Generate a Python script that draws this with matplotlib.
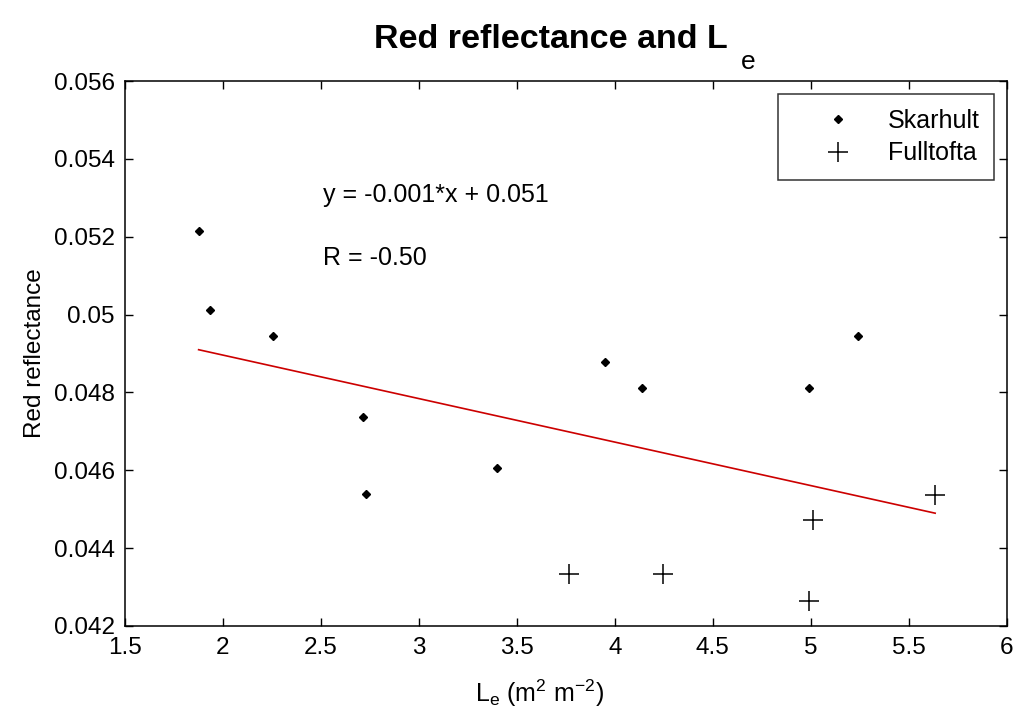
import numpy as np
import matplotlib
matplotlib.use('Agg')
import matplotlib.pyplot as plt

# Leaf area (Le) and red reflectance
skarhult_le = [1.877, 1.937, 2.254, 2.715, 2.733, 3.40, 3.95, 4.14, 4.99, 5.24]
skarhult_red = [0.05215, 0.05011, 0.04944, 0.04738, 0.04538, 0.04606, 0.04877, 0.04811, 0.04811, 0.04945]
fulltofta_le = [3.764, 4.244, 4.988, 5.009, 5.634]
fulltofta_red = [0.04333, 0.04333, 0.04265, 0.04472, 0.04537]

x_ticks = [1.5, 2, 2.5, 3, 3.5, 4, 4.5, 5, 5.5, 6]
y_ticks = [0.042, 0.044, 0.046, 0.048, 0.05, 0.052, 0.054, 0.056]
y_tick_labels = ['0.042', '0.044', '0.046', '0.048', '0.05', '0.052', '0.054', '0.056']

plt.rcParams['font.family'] = ['Liberation Sans', 'DejaVu Sans']
plt.rcParams['mathtext.fontset'] = 'custom'
plt.rcParams['mathtext.rm'] = 'Liberation Sans'

fig = plt.figure(figsize=(10.14, 7.12), dpi=100)
ax = fig.add_axes([0.123, 0.1208, 0.870, 0.7654])

ax.plot(skarhult_le, skarhult_red, linestyle='none', marker='D', markersize=4,
        color='black', label='Skarhult')
ax.plot(fulltofta_le, fulltofta_red, linestyle='none', marker='+', markersize=14,
        markeredgewidth=1.1, color='black', label='Fulltofta')

# linear fit over both sites
all_le = np.array(skarhult_le + fulltofta_le)
all_red = np.array(skarhult_red + fulltofta_red)
slope, intercept = np.polyfit(all_le, all_red, 1)
xs = np.array([all_le.min(), all_le.max()])
ax.plot(xs, slope * xs + intercept, color='#cc0000', linewidth=1.2)

ax.text(2.51, 0.05307, 'y = -0.001*x + 0.051', fontsize=18, va='center', ha='left')
ax.text(2.51, 0.05145, 'R = -0.50', fontsize=18, va='center', ha='left')

ax.set_xlim(1.5, 6)
ax.set_ylim(0.042, 0.056)
ax.set_xticks(x_ticks)
ax.set_xticklabels([('%g' % t) for t in x_ticks])
ax.set_yticks(y_ticks)
ax.set_yticklabels(y_tick_labels)
ax.tick_params(direction='in', length=6, width=1, labelsize=17.5, top=True, right=True)
ax.tick_params(axis='x', pad=8)
ax.tick_params(axis='y', pad=7)
for s in ax.spines.values():
    s.set_linewidth(1.1)

# title with a MATLAB-style dropped subscript
title = ax.annotate('Red reflectance and L', xy=(0.5, 1), xycoords='axes fraction',
                    xytext=(-11, 24), textcoords='offset points', ha='center',
                    va='baseline', fontsize=24.5, fontweight='bold')
ax.annotate('e', xy=(1, 0), xycoords=title, xytext=(10, -10), textcoords='offset points',
            ha='left', va='baseline', fontsize=19)

ax.set_xlabel('L$_\\mathrm{e}$ (m$^\\mathrm{2}$ m$^\\mathrm{-2}$)', fontsize=18, labelpad=6)
ax.xaxis.set_label_coords(0.47, -0.095)
ax.set_ylabel('Red reflectance', fontsize=17.5, labelpad=6)

leg = ax.legend(loc='upper right', fontsize=18, frameon=True, fancybox=False,
                edgecolor='black', borderpad=0.6, handlelength=3.6, handletextpad=0.2,
                labelspacing=0.35, borderaxespad=0.5)
leg.get_frame().set_linewidth(1.1)

fig.savefig('out.png', dpi=100)
